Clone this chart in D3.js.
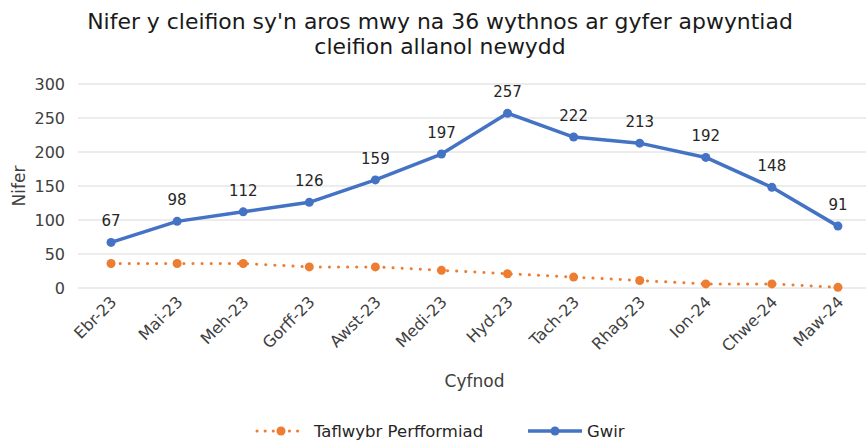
<!DOCTYPE html>
<html lang="cy">
	<head>
		<meta charset="UTF-8" />
		<title>Nifer y cleifion</title>
		<script src="https://d3js.org/d3.v7.min.js"></script>
		<style>
			body { margin: 0; background: #fff; }
			svg { display: block; font-family: "DejaVu Sans", Verdana, sans-serif; }
		</style>
	</head>
	<body>
		<script>
			var months = ["Ebr-23", "Mai-23", "Meh-23", "Gorff-23", "Awst-23", "Medi-23",
				"Hyd-23", "Tach-23", "Rhag-23", "Ion-24", "Chwe-24", "Maw-24"];
			var gwir = [67, 98, 112, 126, 159, 197, 257, 222, 213, 192, 148, 91];
			var taflwybr = [36, 36, 36, 31, 31, 26, 21, 16, 11, 6, 6, 1];
			var yTicks = [0, 50, 100, 150, 200, 250, 300];

			var w = 866;
			var h = 446;
			var plotLeft = 78, plotRight = 871, plotTop = 84, plotBottom = 288;

			var svg = d3.select("body")
				.append("svg")
				.attr("width", w)
				.attr("height", h);

			var xScale = d3.scalePoint()
				.domain(months)
				.range([plotLeft, plotRight])
				.padding(0.5);

			var yScale = d3.scaleLinear()
				.domain([0, 300])
				.range([plotBottom, plotTop]);

			// title
			var title = svg.append("text")
				.attr("text-anchor", "middle")
				.attr("font-size", "20px")
				.attr("fill", "#1a1a1a");
			title.append("tspan").attr("x", 440).attr("y", 29)
				.text("Nifer y cleifion sy'n aros mwy na 36 wythnos ar gyfer apwyntiad");
			title.append("tspan").attr("x", 440).attr("y", 54)
				.text("cleifion allanol newydd");
			// size the font so the first line spans the same width as the reference
			var len = title.select("tspan").node().getComputedTextLength();
			title.attr("font-size", (20 * 706 / len) + "px");

			// gridlines
			svg.append("g")
				.selectAll("line")
				.data(yTicks)
				.enter()
				.append("line")
				.attr("x1", plotLeft)
				.attr("x2", plotRight)
				.attr("y1", function (d) { return yScale(d); })
				.attr("y2", function (d) { return yScale(d); })
				.attr("stroke", "#d9d9d9")
				.attr("stroke-width", 1);

			// y axis
			var yAxis = svg.append("g")
				.attr("transform", "translate(" + (plotLeft - 11) + ",0)")
				.call(d3.axisLeft(yScale).tickValues(yTicks).tickSize(0).tickPadding(2));
			yAxis.select(".domain").remove();
			yAxis.selectAll("text")
				.attr("font-size", "16px")
				.attr("font-family", "DejaVu Sans, sans-serif")
				.attr("fill", "#404040");

			// x axis
			var xAxis = svg.append("g")
				.attr("transform", "translate(0," + plotBottom + ")")
				.call(d3.axisBottom(xScale).tickSize(0).tickPadding(0));
			xAxis.select(".domain").remove();
			xAxis.selectAll("text")
				.attr("font-size", "16px")
				.attr("font-family", "DejaVu Sans, sans-serif")
				.attr("fill", "#404040")
				.attr("text-anchor", "end")
				.attr("dy", null)
				.attr("transform", "translate(6,15) rotate(-45)");

			// axis titles
			svg.append("text")
				.attr("x", (plotLeft + plotRight) / 2)
				.attr("y", 387)
				.attr("text-anchor", "middle")
				.attr("font-size", "17px")
				.attr("fill", "#404040")
				.text("Cyfnod");

			svg.append("text")
				.attr("transform", "translate(25," + (plotTop + plotBottom) / 2 + ") rotate(-90)")
				.attr("text-anchor", "middle")
				.attr("font-size", "17px")
				.attr("fill", "#404040")
				.text("Nifer");

			var line = d3.line()
				.x(function (d, i) { return xScale(months[i]); })
				.y(function (d) { return yScale(d); });

			// Taflwybr Perfformiad (dotted)
			svg.append("path")
				.datum(taflwybr)
				.attr("d", line)
				.attr("fill", "none")
				.attr("stroke", "#ED7D31")
				.attr("stroke-width", 3)
				.attr("stroke-linecap", "round")
				.attr("stroke-dasharray", "0.1 9");
			svg.append("g")
				.selectAll("circle")
				.data(taflwybr)
				.enter()
				.append("circle")
				.attr("cx", function (d, i) { return xScale(months[i]); })
				.attr("cy", function (d) { return yScale(d); })
				.attr("r", 4.5)
				.attr("fill", "#ED7D31");

			// Gwir
			svg.append("path")
				.datum(gwir)
				.attr("d", line)
				.attr("fill", "none")
				.attr("stroke", "#4472C4")
				.attr("stroke-width", 3.5)
				.attr("stroke-linejoin", "round");
			svg.append("g")
				.selectAll("circle")
				.data(gwir)
				.enter()
				.append("circle")
				.attr("cx", function (d, i) { return xScale(months[i]); })
				.attr("cy", function (d) { return yScale(d); })
				.attr("r", 4.5)
				.attr("fill", "#4472C4");

			// data labels
			svg.append("g")
				.selectAll("text")
				.data(gwir)
				.enter()
				.append("text")
				.attr("x", function (d, i) { return xScale(months[i]); })
				.attr("y", function (d) { return yScale(d) - 16; })
				.attr("text-anchor", "middle")
				.attr("font-size", "15px")
				.attr("fill", "#262626")
				.text(function (d) { return d; });

			// legend
			var legend = svg.append("g").attr("transform", "translate(0,431)");
			legend.append("line")
				.attr("x1", 257).attr("x2", 305)
				.attr("stroke", "#ED7D31")
				.attr("stroke-width", 3)
				.attr("stroke-linecap", "round")
				.attr("stroke-dasharray", "0.1 8");
			legend.append("circle").attr("cx", 281).attr("r", 4.5).attr("fill", "#ED7D31");
			legend.append("text")
				.attr("x", 314).attr("y", 6)
				.attr("font-size", "16.5px")
				.attr("fill", "#262626")
				.text("Taflwybr Perfformiad");
			legend.append("line")
				.attr("x1", 528).attr("x2", 582)
				.attr("stroke", "#4472C4")
				.attr("stroke-width", 3.5);
			legend.append("circle").attr("cx", 555).attr("r", 4.5).attr("fill", "#4472C4");
			legend.append("text")
				.attr("x", 587).attr("y", 6)
				.attr("font-size", "16.5px")
				.attr("fill", "#262626")
				.text("Gwir");
		</script>
	</body>
</html>
